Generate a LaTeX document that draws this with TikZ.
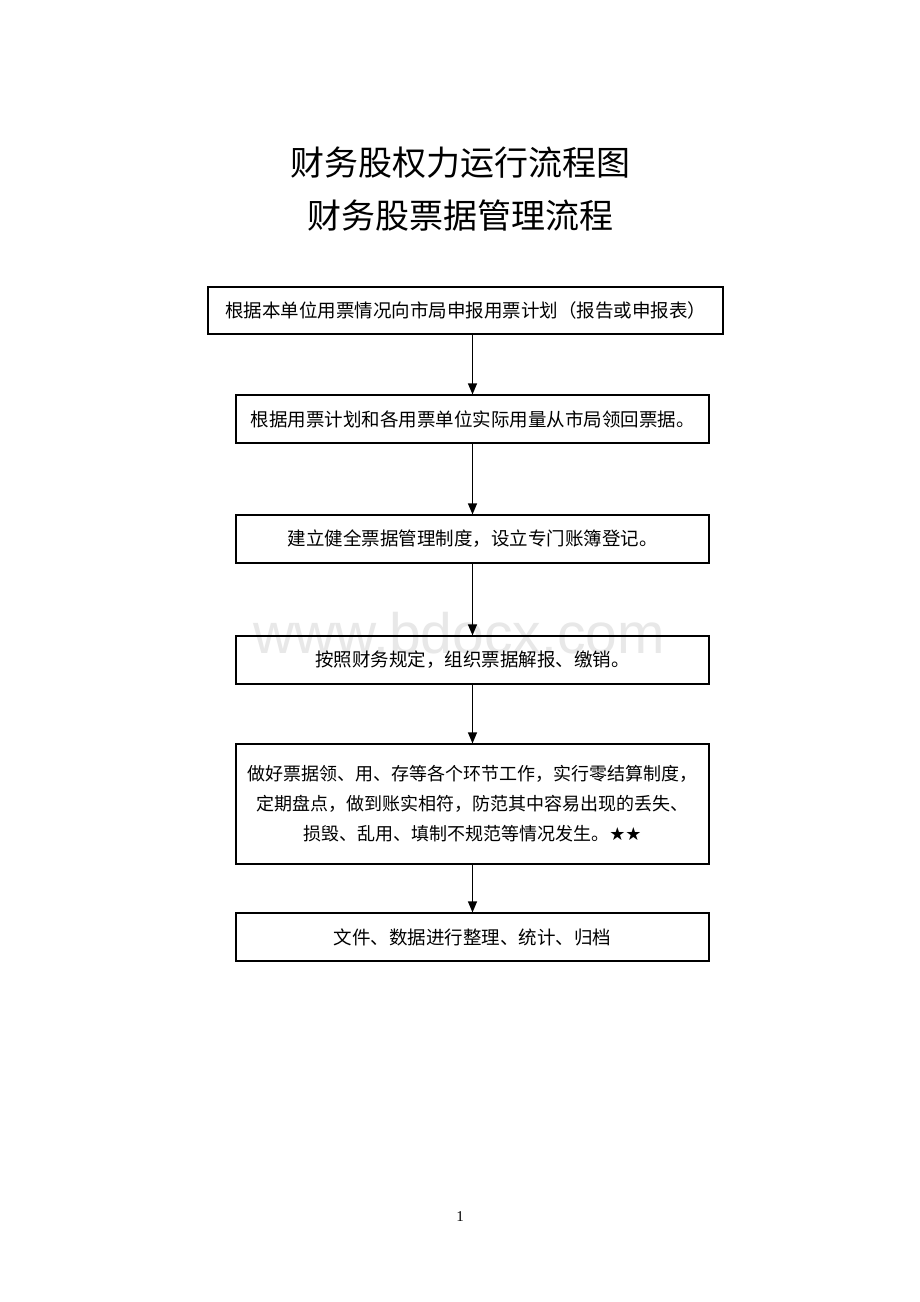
\documentclass[tikz,border=0pt]{standalone}
\usepackage{fontspec}
\setmainfont{Liberation Serif}
\newfontfamily\cjk{Noto Sans CJK SC}
\newfontfamily\wmfont{Liberation Sans}
\newfontfamily\symfont{DejaVu Sans}
\usetikzlibrary{arrows.meta}
\begin{document}
\begin{tikzpicture}[x=1pt,y=-1pt,
  stepbox/.style={draw=black,line width=1.2pt,inner sep=0pt,align=center,
    font=\cjk\fontsize{18.5}{30}\selectfont},
  flow/.style={line width=1.2pt,-{Triangle[width=9pt,length=11pt]}}]
\useasboundingbox[fill=white] (0,0) rectangle (920,1302);
\node[text=black!9,font=\wmfont\fontsize{57}{60}\selectfont] (wm) at (459,633) {www.bdocx.com};
\node[font=\cjk\fontsize{34}{40}\selectfont] (t1) at (460,163) {财务股权力运行流程图};
\node[font=\cjk\fontsize{34}{40}\selectfont] (t2) at (460,216) {财务股票据管理流程};
\node[stepbox,minimum width=515,minimum height=47] (b1) at (465.5,310.5) {根据本单位用票情况向市局申报用票计划（报告或申报表）};
\node[stepbox,minimum width=473,minimum height=48] (b2) at (472.5,419) {根据用票计划和各用票单位实际用量从市局领回票据。};
\node[stepbox,minimum width=473,minimum height=48] (b3) at (472.5,539) {建立健全票据管理制度，设立专门账簿登记。};
\node[stepbox,minimum width=473,minimum height=48] (b4) at (472.5,660) {按照财务规定，组织票据解报、缴销。};
\node[stepbox,minimum width=473,minimum height=120,font=\cjk\fontsize{18}{30}\selectfont] (b5) at (472.5,804) {做好票据领、用、存等各个环节工作，实行零结算制度，\\定期盘点，做到账实相符，防范其中容易出现的丢失、\\损毁、乱用、填制不规范等情况发生。{\symfont ★★}};
\node[stepbox,minimum width=473,minimum height=48] (b6) at (472.5,937) {文件、数据进行整理、统计、归档};
\node[font=\fontsize{15}{18}\selectfont] (pg) at (460,1217) {1};
\draw[flow] (b1.south -| b2.north) -- (b2.north);
\draw[flow] (b2.south) -- (b3.north);
\draw[flow] (b3.south) -- (b4.north);
\draw[flow] (b4.south) -- (b5.north);
\draw[flow] (b5.south) -- (b6.north);
\end{tikzpicture}
\end{document}
